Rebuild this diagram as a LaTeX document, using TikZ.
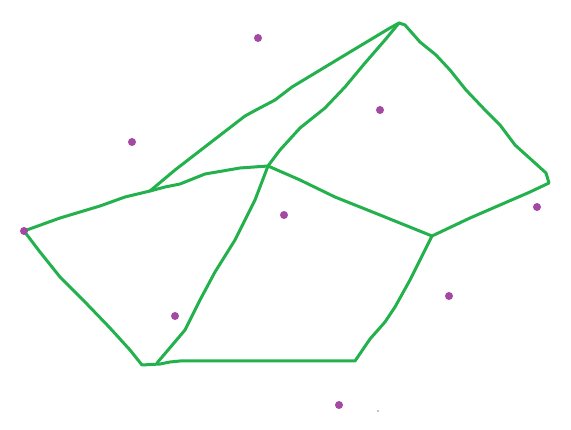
\documentclass[tikz,border=0pt]{standalone}
\begin{document}
\begin{tikzpicture}[x=1pt,y=-1pt,
  edge/.style={draw={rgb,255:red,34;green,177;blue,76},line width=3pt,line cap=round,line join=round},
  site/.style={circle,fill={rgb,255:red,163;green,73;blue,164},inner sep=0pt,minimum size=8pt}]
\useasboundingbox (0,0) rectangle (571,430);
% vertices
\coordinate (A) at (24,231);
\coordinate (B) at (150,191);
\coordinate (T) at (399,23);
\coordinate (R) at (549,183);
\coordinate (C) at (268,166);
\coordinate (D) at (432,236);
\coordinate (E) at (142,365);
\coordinate (F) at (355,361);
% edges
\draw[edge] (A) -- (40,252) -- (60,277) -- (85,302) -- (110,328) -- (130,350) -- (E) -- (160,364) -- (170,362) -- (180,361) -- (F) -- (370,339) -- (385,322) -- (395,307) -- (410,280) -- (D);
\draw[edge] (A) -- (60,218) -- (100,206) -- (125,197) -- (B);
\draw[edge] (B) -- (175,170) -- (210,143) -- (245,116) -- (256,110) -- (275,100) -- (292,87) -- (350,52) -- (390,28) -- (T);
\draw[edge] (B) -- (165,187) -- (180,184) -- (205,174) -- (240,168) -- (C);
\draw[edge] (C) -- (300,180) -- (335,197) -- (380,215) -- (D);
\draw[edge] (T) -- (385,40) -- (365,63) -- (345,87) -- (325,108) -- (300,128) -- (280,150) -- (C);
\draw[edge] (C) -- (255,200) -- (235,240) -- (215,272) -- (200,300) -- (185,330) -- (157,363);
\draw[edge] (T) -- (405,25) -- (420,42) -- (436,55) -- (450,70) -- (466,90) -- (485,110) -- (500,125) -- (515,145) -- (535,163) -- (546,173) -- (R) -- (530,192) -- (500,205) -- (470,218) -- (D);
% sites
\node[site] (s1) at (258,38) {};
\node[site] (s2) at (132,142) {};
\node[site] (s3) at (380,110) {};
\node[site] (s4) at (284,215) {};
\node[site] (s5) at (537,207) {};
\node[site] (s6) at (449,296) {};
\node[site] (s7) at (175,316) {};
\node[site] (s8) at (339,405) {};
\node[site] (s9) at (24,231) {};
\fill (378,411) circle (0.6pt);
\end{tikzpicture}
\end{document}
